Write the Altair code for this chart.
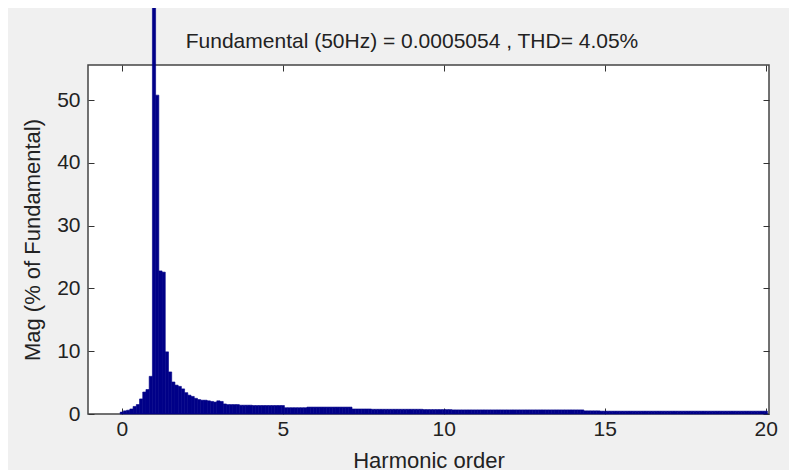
import altair as alt
import pandas as pd

# Harmonic order of each FFT bin (5 Hz resolution -> 0.1 harmonic steps)
harmonics = [i / 10 for i in range(201)]

# Magnitude (% of fundamental), bins 0.0 .. 20.0
magnitudes = [
    0.3, 0.5, 0.6, 0.8, 1.2, 1.5, 2.4, 3.5, 3.9, 6.0,          # 0.0-0.9
    100.0, 50.8, 22.8, 22.6, 9.9, 6.7, 5.1, 4.6, 4.4, 4.0,     # 1.0-1.9
    3.4, 3.0, 2.8, 2.5, 2.3, 2.2, 2.2, 2.1, 2.0, 1.9,          # 2.0-2.9
    2.1, 2.0, 1.6, 1.5, 1.5, 1.5, 1.5, 1.4, 1.4, 1.4,          # 3.0-3.9
    1.4, 1.35, 1.35, 1.35, 1.35, 1.35, 1.35, 1.35, 1.35, 1.35, # 4.0-4.9
    1.35, 1.0, 1.0, 1.0, 1.0, 1.0, 1.0, 1.0, 1.1, 1.1,         # 5.0-5.9
    1.1, 1.1, 1.1, 1.1, 1.1, 1.1, 1.1, 1.1, 1.1, 1.1,          # 6.0-6.9
    1.1, 1.1, 0.8, 0.8, 0.8, 0.8, 0.8, 0.8, 0.75, 0.75,        # 7.0-7.9
    0.75, 0.75, 0.75, 0.75, 0.75, 0.75, 0.75, 0.75, 0.75, 0.75,# 8.0-8.9
    0.75, 0.75, 0.75, 0.75, 0.7, 0.7, 0.7, 0.7, 0.7, 0.7,      # 9.0-9.9
    0.7, 0.7, 0.7, 0.65, 0.65, 0.65, 0.65, 0.65, 0.65, 0.65,   # 10.0-10.9
    0.65, 0.65, 0.65, 0.65, 0.65, 0.65, 0.65, 0.65, 0.65, 0.65,# 11.0-11.9
    0.65, 0.65, 0.65, 0.65, 0.65, 0.65, 0.65, 0.65, 0.65, 0.65,# 12.0-12.9
    0.65, 0.65, 0.65, 0.65, 0.65, 0.65, 0.65, 0.65, 0.65, 0.65,# 13.0-13.9
    0.65, 0.65, 0.65, 0.65, 0.5, 0.5, 0.5, 0.5, 0.5, 0.45,     # 14.0-14.9
    0.45, 0.45, 0.45, 0.45, 0.45, 0.45, 0.45, 0.45, 0.45, 0.45,# 15.0-15.9
    0.45, 0.45, 0.45, 0.45, 0.45, 0.45, 0.45, 0.45, 0.45, 0.45,# 16.0-16.9
    0.45, 0.45, 0.45, 0.45, 0.45, 0.45, 0.45, 0.45, 0.45, 0.45,# 17.0-17.9
    0.45, 0.45, 0.45, 0.45, 0.45, 0.45, 0.45, 0.45, 0.45, 0.45,# 18.0-18.9
    0.45, 0.45, 0.45, 0.45, 0.45, 0.45, 0.45, 0.45, 0.45, 0.45,# 19.0-19.9
    0.45,                                                       # 20.0
]

x_ticks = [0, 5, 10, 15, 20]
y_ticks = [0, 10, 20, 30, 40, 50]
title_text = "Fundamental (50Hz) = 0.0005054 , THD= 4.05%"

df = pd.DataFrame({"h": harmonics, "mag": magnitudes})

FONT = "Liberation Sans"
TXT = "#222222"
AX = "#333333"
BAR = "#000088"

xscale = alt.Scale(domain=[-1.05, 20.1], nice=False, zero=False)
yscale = alt.Scale(domain=[0, 55.6], nice=False, zero=True)

base = alt.Chart(df).transform_calculate(
    x0="datum.h - 0.05", x1="datum.h + 0.05"
)

bars = base.mark_bar(
    color=BAR, stroke=BAR, strokeWidth=0.6, clip=False
).encode(
    x=alt.X(
        "x0:Q",
        scale=xscale,
        axis=alt.Axis(
            orient="bottom", values=x_ticks, format="d", domain=False,
            tickSize=6, offset=-6, tickColor=AX, tickWidth=1,
            labelPadding=4, labelFontSize=21, labelFont=FONT, labelColor=TXT,
            title="Harmonic order", titleFontSize=22, titleFont=FONT,
            titleFontWeight="normal", titleColor=TXT, titlePadding=11,
            grid=False,
        ),
    ),
    x2="x1:Q",
    y=alt.Y(
        "mag:Q",
        scale=yscale,
        axis=alt.Axis(
            orient="left", values=y_ticks, format="d", domain=False,
            tickSize=6, offset=-6, tickColor=AX, tickWidth=1,
            labelPadding=8, labelFontSize=21, labelFont=FONT, labelColor=TXT,
            title="Mag (% of Fundamental)", titleFontSize=22, titleFont=FONT,
            titleFontWeight="normal", titleColor=TXT, titlePadding=12,
            grid=False,
        ),
    ),
    y2=alt.datum(0),
)

mirror = base.mark_point(opacity=0).encode(
    x=alt.X(
        "h:Q",
        scale=xscale,
        axis=alt.Axis(
            orient="top", values=x_ticks, labels=False, domain=False,
            tickSize=6, offset=-6, tickColor=AX, tickWidth=1,
            title=None, grid=False,
        ),
    ),
    y=alt.Y(
        "mag:Q",
        scale=yscale,
        axis=alt.Axis(
            orient="right", values=y_ticks, labels=False, domain=False,
            tickSize=6, offset=-6, tickColor=AX, tickWidth=1,
            title=None, grid=False,
        ),
    ),
)

title = alt.Chart(pd.DataFrame({"t": [title_text]})).mark_text(
    font=FONT, fontSize=21, color=TXT, align="center", baseline="alphabetic"
).encode(
    text="t:N",
    x=alt.value(324),
    y=alt.value(-17),
)

chart = (
    alt.layer(bars, mirror, title)
    .resolve_axis(x="independent", y="independent")
    .properties(
        width=681,
        height=349,
        padding={"left": 80, "top": 57, "right": 20, "bottom": 60},
        autosize=alt.AutoSizeParams(type="none"),
        background="#F0F0F0",
    )
    .configure_view(fill="white", stroke="#444444", strokeWidth=1.5)
)

chart.save("out.html", embed_options={"renderer": "svg", "actions": False})
